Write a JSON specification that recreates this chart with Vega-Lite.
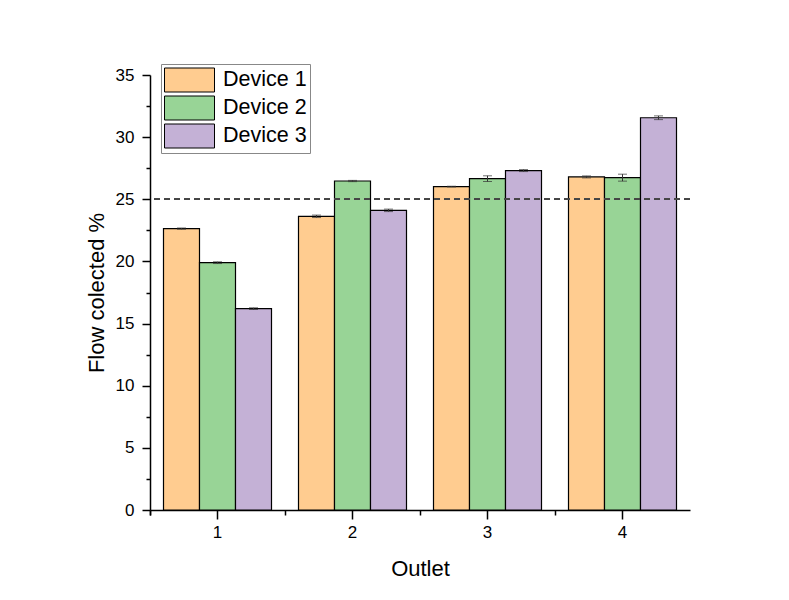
{
  "$schema": "https://vega.github.io/schema/vega-lite/v6.json",
  "autosize": {"type": "none"},
  "width": 540,
  "height": 435,
  "padding": {"left": 150, "top": 75, "right": 99, "bottom": 90},
  "background": "white",
  "config": {
    "view": {"stroke": null},
    "font": "Arial",
    "axis": {
      "domainColor": "black", "domainWidth": 1.5, "tickColor": "black", "tickWidth": 1.5,
      "labelFont": "Arial", "labelFontSize": 16, "labelColor": "black",
      "titleFont": "Arial", "titleFontSize": 22, "titleFontWeight": "normal", "titleColor": "black",
      "grid": false
    }
  },
  "data": {"values": [
    {"Outlet": "1", "Device": "Device 1", "value": 22.64, "lo": 22.59, "hi": 22.69},
    {"Outlet": "1", "Device": "Device 2", "value": 19.9, "lo": 19.83, "hi": 19.97},
    {"Outlet": "1", "Device": "Device 3", "value": 16.2, "lo": 16.13, "hi": 16.27},
    {"Outlet": "2", "Device": "Device 1", "value": 23.63, "lo": 23.53, "hi": 23.73},
    {"Outlet": "2", "Device": "Device 2", "value": 26.47, "lo": 26.42, "hi": 26.52},
    {"Outlet": "2", "Device": "Device 3", "value": 24.11, "lo": 24.01, "hi": 24.21},
    {"Outlet": "3", "Device": "Device 1", "value": 26.02, "lo": 25.99, "hi": 26.05},
    {"Outlet": "3", "Device": "Device 2", "value": 26.66, "lo": 26.43, "hi": 26.89},
    {"Outlet": "3", "Device": "Device 3", "value": 27.31, "lo": 27.23, "hi": 27.39},
    {"Outlet": "4", "Device": "Device 1", "value": 26.8, "lo": 26.72, "hi": 26.88},
    {"Outlet": "4", "Device": "Device 2", "value": 26.74, "lo": 26.46, "hi": 27.02},
    {"Outlet": "4", "Device": "Device 3", "value": 31.56, "lo": 31.41, "hi": 31.71}
  ]},
  "resolve": {"axis": {"x": "independent", "y": "independent"}},
  "layer": [
    {
      "mark": {"type": "bar", "stroke": "black", "strokeWidth": 1.2, "opacity": 1},
      "encoding": {
        "x": {"field": "Outlet", "type": "nominal",
              "scale": {"paddingInner": 0.2, "paddingOuter": 0.1},
              "axis": {"title": "Outlet", "labelAngle": 0, "tickSize": 9, "labelPadding": 5, "titlePadding": 18, "labelFontSize": 17, "labelFont": "Liberation Sans", "titleFont": "Liberation Sans", "titleFontSize": 22}},
        "xOffset": {"field": "Device", "type": "nominal", "scale": {"paddingInner": 0, "paddingOuter": 0}},
        "y": {"field": "value", "type": "quantitative",
              "scale": {"domain": [0, 35], "nice": false},
              "axis": {"title": "Flow colected %", "values": [0, 5, 10, 15, 20, 25, 30, 35], "tickSize": 8, "labelPadding": 8, "titlePadding": 7, "labelFontSize": 17, "labelFont": "Liberation Sans", "titleFont": "Liberation Sans", "titleFontSize": 22}},
        "color": {"field": "Device", "type": "nominal",
                  "scale": {"domain": ["Device 1", "Device 2", "Device 3"], "range": ["#FFCC90", "#98D496", "#C4B1D6"]},
                  "legend": {
                    "title": null, "orient": "none", "legendX": 11, "legendY": -11,
                    "symbolType": "M-1,-0.96H3V0.96H-1Z", "symbolSize": 625,
                    "symbolStrokeColor": "black", "symbolStrokeWidth": 1, "symbolOpacity": 1,
                    "labelFont": "Liberation Sans", "labelFontSize": 21.5, "labelColor": "black", "labelOffset": 33,
                    "rowPadding": 0, "padding": 3, "strokeColor": "#888", "fillColor": "white"
                  }}
      }
    },
    {
      "mark": {"type": "rule", "color": "#333", "strokeWidth": 1},
      "encoding": {
        "x": {"field": "Outlet", "type": "nominal",
              "axis": {"title": null, "labels": false, "domain": false, "bandPosition": 0, "tickExtra": true, "tickOffset": -13.5, "tickSize": 5, "orient": "bottom"}},
        "xOffset": {"field": "Device", "type": "nominal"},
        "y": {"field": "lo", "type": "quantitative",
              "axis": {"title": null, "labels": false, "domain": false, "orient": "left", "values": [2.5, 7.5, 12.5, 17.5, 22.5, 27.5, 32.5], "tickSize": 4}},
        "y2": {"field": "hi"}
      }
    },
    {
      "mark": {"type": "tick", "color": "#333", "thickness": 1, "size": 9},
      "encoding": {
        "x": {"field": "Outlet", "type": "nominal", "axis": null},
        "xOffset": {"field": "Device", "type": "nominal"},
        "y": {"field": "lo", "type": "quantitative", "axis": null}
      }
    },
    {
      "mark": {"type": "tick", "color": "#333", "thickness": 1, "size": 9},
      "encoding": {
        "x": {"field": "Outlet", "type": "nominal", "axis": null},
        "xOffset": {"field": "Device", "type": "nominal"},
        "y": {"field": "hi", "type": "quantitative", "axis": null}
      }
    },
    {
      "mark": {"type": "rule", "color": "#444", "strokeWidth": 1.2, "strokeDash": [6, 4]},
      "encoding": {
        "y": {"datum": 25, "type": "quantitative", "axis": null}
      }
    }
  ]
}
